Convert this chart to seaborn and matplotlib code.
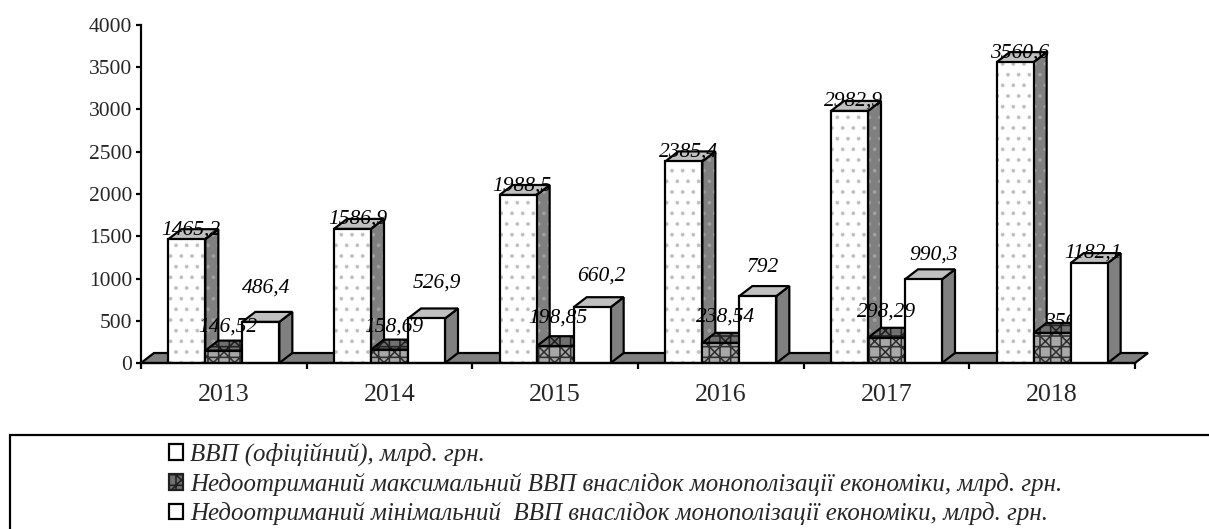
import matplotlib
matplotlib.use('Agg')
import pandas as pd
import matplotlib.pyplot as plt
import seaborn as sns
from matplotlib.patches import Patch, Polygon, Rectangle

years = ['2013', '2014', '2015', '2016', '2017', '2018']
series_names = ['ВВП (офіційний), млрд. грн.',
                'Недоотриманий максимальний ВВП внаслідок монополізації економіки, млрд. грн.',
                'Недоотриманий мінімальний  ВВП внаслідок монополізації економіки, млрд. грн.']
gdp_official = [1465.2, 1586.9, 1988.5, 2385.4, 2982.9, 3560.6]
gdp_lost_max = [146.52, 158.69, 198.85, 238.54, 298.29, 356]
gdp_lost_min = [486.4, 526.9, 660.2, 792, 990.3, 1182.1]
label_official = ['1465,2', '1586,9', '1988,5', '2385,4', '2982,9', '3560,6']
label_lost_max = ['146,52', '158,69', '198,85', '238,54', '298,29', '356']
label_lost_min = ['486,4', '526,9', '660,2', '792', '990,3', '1182,1']

# where each value label sits relative to its bar top, in pixels
lift_official = [9, 10, 9, 9, 10, 9]
lift_lost_max = [24, 23, 28, 26, 26, 10]
lift_lost_min = [34, 35, 31, 29, 24, 10]
shift_official = [4, 5, 4, 5, 4, 4]
shift_lost_max = [4, 4, 3, 5, 0, 8]
shift_lost_min = [5, 10, 9, 5, 10, 4]

W, H, DPI = 1209, 529, 64
PX = 72 / DPI  # one pixel in points
DEPTH_X, DEPTH_Y = 13, 10

sns.set_style('white')
plt.rcParams['font.family'] = ['Liberation Serif', 'DejaVu Serif']
plt.rcParams['hatch.linewidth'] = 1.8

df = pd.DataFrame({
    'year': years * 3,
    'series': sum([[n] * 6 for n in series_names], []),
    'value': gdp_official + gdp_lost_max + gdp_lost_min,
})

fig = plt.figure(figsize=(W / DPI, H / DPI), dpi=DPI)
ax = fig.add_axes([141 / W, 1 - 363 / H, (1135 - 141) / W, (363 - 25) / H])
ax.patch.set_alpha(0)

sns.barplot(data=df, x='year', y='value', hue='series', hue_order=series_names,
            order=years, width=0.67, gap=0, dodge=True, legend=False, ax=ax,
            palette=['white', '#a8a8a8', 'white'], saturation=1)
ax.set_ylim(0, 4000)
ax.set_xlim(-0.5, 5.5)
ax.set_xlabel('')
ax.set_ylabel('')

dx = DEPTH_X * 6 / (1135 - 141)
dy = DEPTH_Y * 4000 / (363 - 25)
LW = 2.2 * PX
SIDE = '#808080'
TOP = '#c0c0c0'

# floor of the 3d box
x0, x1 = ax.get_xlim()
ax.add_patch(Polygon([(x0, 0), (x0 + dx, dy), (x1 + dx, dy), (x1, 0)], closed=True,
                     fc=SIDE, ec='black', lw=LW, zorder=1, clip_on=False))

hatches = ['.', 'x+', None]
hatch_cols = ['#c0c0c0', '#303030', 'white']
all_labels = [label_official, label_lost_max, label_lost_min]
all_lifts = [lift_official, lift_lost_max, lift_lost_min]
all_shifts = [shift_official, shift_lost_max, shift_lost_min]

for s, cont in enumerate(ax.containers):
    for i, bar in enumerate(cont.patches):
        base = 3 + i * 10 + s * 3
        left, right = bar.get_x(), bar.get_x() + bar.get_width()
        h = bar.get_height()
        bar.set(edgecolor=hatch_cols[s], linewidth=0, zorder=base + 1)
        if hatches[s]:
            bar.set_hatch(hatches[s])
        # side face, the dotted bar keeps its dots there too
        side = [(right, 0), (right + dx, dy), (right + dx, h + dy), (right, h)]
        ax.add_patch(Polygon(side, closed=True, fc=SIDE, ec='#a0a0a0' if s == 0 else SIDE,
                             hatch='.' if s == 0 else None, lw=0, zorder=base))
        ax.add_patch(Polygon(side, closed=True, fill=False, ec='black', lw=LW, zorder=base))
        # top face
        top = [(left, h), (left + dx, h + dy), (right + dx, h + dy), (right, h)]
        if s == 1:
            ax.add_patch(Polygon(top, closed=True, fc='#707070', ec='#202020', hatch='x+', lw=0,
                                 zorder=base))
            ax.add_patch(Polygon(top, closed=True, fill=False, ec='black', lw=LW, zorder=base))
        else:
            ax.add_patch(Polygon(top, closed=True, fc=TOP, ec='black', lw=LW, zorder=base))
        # outline drawn apart so that the hatch keeps its own colour
        ax.add_patch(Rectangle((left, 0), right - left, h, fill=False, ec='black', lw=LW,
                               zorder=base + 1.5))
        # the 356 label is partly hidden behind the bars in the original
        z = base - 0.5 if all_labels[s][i] == '356' else 100
        ax.annotate(all_labels[s][i], xy=((left + right) / 2, h),
                    xytext=(all_shifts[s][i], all_lifts[s][i]),
                    textcoords='offset pixels', ha='center', va='center', style='italic',
                    fontsize=21.5 * PX, color='black', zorder=z, annotation_clip=False)

sns.despine(ax=ax)
for side_name in ['left', 'bottom']:
    ax.spines[side_name].set_linewidth(LW)
    ax.spines[side_name].set_color('black')
    ax.spines[side_name].set_zorder(90)

ax.set_yticks(range(0, 4001, 500))
ax.set_xticks([i - 0.5 for i in range(7)], minor=True)
ax.tick_params(axis='y', which='major', left=True, length=5 * PX, width=LW, pad=4 * PX,
               labelsize=21.5 * PX, color='black')
ax.tick_params(axis='x', which='major', bottom=False, pad=18 * PX, labelsize=26 * PX)
ax.tick_params(axis='x', which='minor', bottom=True, length=6 * PX, width=LW, color='black')

# frame round the legend runs off the picture on the right and at the bottom
fig.add_artist(Rectangle((10 / W, -10 / H), 1220 / W, (539 - 435) / H, fill=False,
                         ec='black', lw=LW, transform=fig.transFigure))
handles = [Patch(fc='white', ec='black', lw=LW),
           Patch(fc='#707070', ec='#202020', lw=LW, hatch='x+'),
           Patch(fc='white', ec='black', lw=LW)]
fig.legend(handles, series_names, loc='upper left', bbox_to_anchor=(169 / W, 1 - 443 / H),
           frameon=False, prop={'style': 'italic', 'size': 24.85 * PX},
           handlelength=0.58, handleheight=0.58, handletextpad=0.28, labelspacing=0.26,
           borderpad=0, borderaxespad=0)

plt.savefig('out.png', dpi=DPI)
plt.close()
